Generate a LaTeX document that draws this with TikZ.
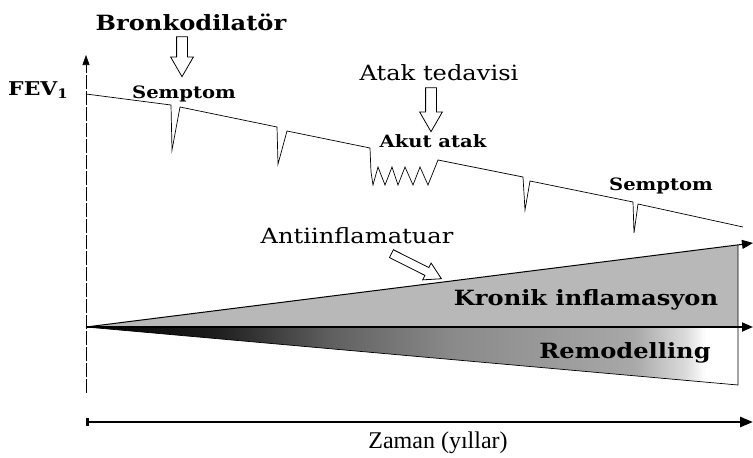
\documentclass[tikz,border=0pt]{standalone}
\usepackage{fontspec}
\setmainfont{Liberation Serif}
\newfontfamily\labelserif{DejaVu Serif}
\usetikzlibrary{arrows.meta, shapes.arrows}

% shade of the remodelling wedge: dark at the start, fading out at the end
% (the path's box spans 25bp..75bp of the shading)
\pgfdeclarehorizontalshading{remshade}{100bp}{color(0bp)=(black); color(25bp)=(black); color(35bp)=(black!88); color(44bp)=(black!62); color(53bp)=(black!46); color(67bp)=(black!34); color(71bp)=(black!14); color(72.5bp)=(white); color(100bp)=(white)}

\begin{document}
\begin{tikzpicture}[
    x=1pt, y=-1pt,
    lbl/.style={anchor=base, inner sep=0pt, xscale=1.15},
    boldlbl/.style={lbl, font=\labelserif\bfseries\fontsize{21}{24}\selectfont},
    smalllbl/.style={lbl, font=\labelserif\bfseries\fontsize{17}{20}\selectfont},
    plainlbl/.style={lbl, font=\labelserif\fontsize{21}{24}\selectfont},
    hollow/.style={single arrow, draw=black, fill=white, line width=0.8pt, inner sep=5pt, single arrow head extend=6pt, single arrow tip angle=60, minimum height=40pt},
    axis/.style={line width=1.8pt, -{Triangle[length=11pt,width=9pt]}},
    curve/.style={line width=0.7pt, line join=miter}
]
\useasboundingbox (0,0) rectangle (753,458);

% === Axes points ===
\coordinate (origin) at (86,327);
\coordinate (ytop) at (86,55);
\coordinate (ybot) at (86,393);
\coordinate (midend) at (753,327);
\coordinate (upend) at (753,243);
\coordinate (upcut) at (738,245);
\coordinate (lowcut) at (738,385);
\coordinate (axcut) at (738,327);
\coordinate (timeL) at (86,422);
\coordinate (timeR) at (753,422);
\coordinate (fevstart) at (86,94);

% === Wedges ===
\fill[black!28] (origin) -- (upcut) -- (axcut) -- cycle;
\shade[shading=remshade] (origin) -- (axcut) -- (lowcut) -- cycle;
\draw[line width=0.7pt] (origin) -- (lowcut) -- (axcut) -- (upcut);

% === Axes ===
\draw[line width=0.6pt, dash pattern=on 14pt off 2pt, -{Triangle[length=10pt,width=7pt]}] (ybot) -- (ytop);
\draw[axis] (origin) -- (midend);
\draw[line width=1pt, -{Triangle[length=11pt,width=9pt]}] (origin) -- (upend);
\draw[line width=2.6pt, {Bar[width=8pt]}-{Triangle[length=13pt,width=10pt]}] (timeL) -- (timeR);

% === FEV1 curve ===
\draw[curve] (fevstart) -- (171,105) -- (172,150) -- (180,107)
    -- (277,127) -- (278,164) -- (287,131)
    -- (370,148) -- (371,172) -- (373,185) -- (378,167) -- (385,185)
    -- (392,167) -- (398,185) -- (405,167) -- (413,185) -- (420,167)
    -- (428,185) -- (438,160)
    -- (523,177) -- (525,210) -- (530,181)
    -- (633,202) -- (634,233) -- (638,204) -- (743,227);

% === Labels ===
\node[smalllbl, font=\labelserif\bfseries\fontsize{19}{22}\selectfont] (fevlabel) at (38,95) {FEV\raisebox{-0.35ex}{\fontsize{13}{13}\selectfont 1}};
\node[boldlbl] (bronko) at (191,30) {Bronkodilatör};
\node[hollow, rotate=-90] (bronkoarrow) at (182,52) {};
\node[smalllbl] (semptomA) at (184,98) {Semptom};

\node[plainlbl] (atak) at (439,80) {Atak tedavisi};
\node[hollow, rotate=-90, minimum height=44pt] (atakarrow) at (431,105) {};
\node[smalllbl] (akut) at (433,147) {Akut atak};
\node[smalllbl] (semptomB) at (661,190) {Semptom};

\node[plainlbl] (antiinf) at (357,243) {Antiinflamatuar};
\node[hollow, rotate=-26.6, minimum height=56pt, inner sep=4pt, single arrow head extend=5pt] (antiarrow) at (413,264.5) {};

\node[boldlbl] (kronik) at (586,305) {Kronik inflamasyon};
\node[boldlbl] (remod) at (625,358) {Remodelling};

\node[anchor=base, inner sep=0pt, font=\fontsize{24}{28}\selectfont] (zaman) at (438,448) {Zaman (yıllar)};

\end{tikzpicture}
\end{document}
